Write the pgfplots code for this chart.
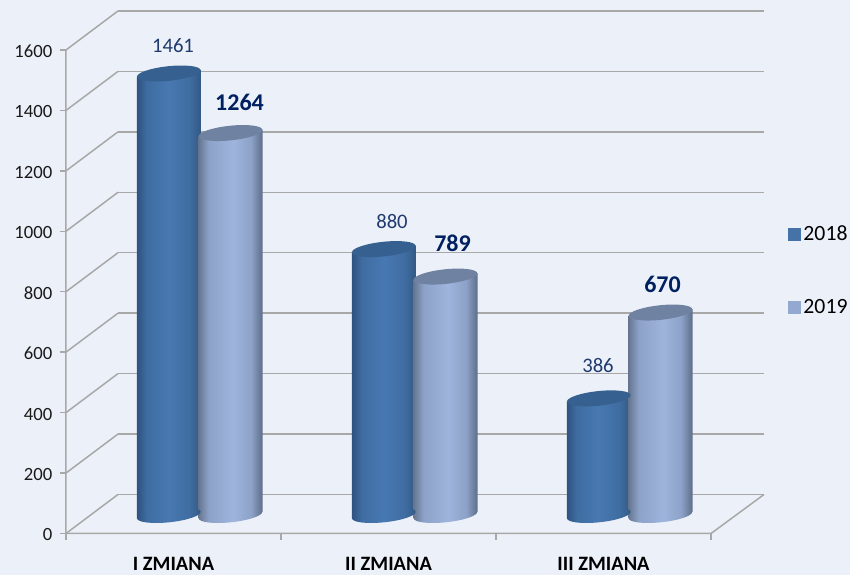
\documentclass[border=0pt]{standalone}
\usepackage{fontspec}
\setmainfont{Carlito}
\usepackage{pgfplots}
\pgfplotsset{compat=1.18}
\usetikzlibrary{calc}
\def\px{0.75pt}
\definecolor{bgc}{HTML}{ECF1F9}
\definecolor{gridc}{HTML}{A8A8A8}
\definecolor{navyA}{HTML}{1F3A6E}
\definecolor{navyB}{HTML}{002060}
\definecolor{topA}{HTML}{35608F}
\definecolor{topB}{HTML}{6F82A2}
\definecolor{legA}{HTML}{4572A7}
\definecolor{legB}{HTML}{93A9CF}
\definecolor{HTMLa}{HTML}{2F5280}
\definecolor{HTMLb}{HTML}{3F6DA2}
\definecolor{HTMLc}{HTML}{4878B1}
\definecolor{HTMLd}{HTML}{335983}
\definecolor{HTMLe}{HTML}{667691}
\definecolor{HTMLf}{HTML}{8DA2C8}
\definecolor{HTMLg}{HTML}{9FB4DC}
\definecolor{HTMLh}{HTML}{5E6E8A}
\pgfdeclarehorizontalshading{cylA}{100bp}{
  color(0bp)=(HTMLa);color(25bp)=(HTMLa);color(33bp)=(HTMLb);color(50bp)=(HTMLc);color(66bp)=(HTMLb);color(75bp)=(HTMLd);color(100bp)=(HTMLd)}
\pgfdeclarehorizontalshading{cylB}{100bp}{
  color(0bp)=(HTMLe);color(25bp)=(HTMLe);color(33bp)=(HTMLf);color(52bp)=(HTMLg);color(66bp)=(HTMLf);color(75bp)=(HTMLh);color(100bp)=(HTMLh)}
\def\mk{(canvas cs:x=0pt,y=0pt) ellipse [x radius=32*\px, y radius=7.3*\px, rotate=6]}
\pgfdeclareplotmark{topA}{\path[draw=none,fill=topA] \mk;}
\pgfdeclareplotmark{topB}{\path[draw=none,fill=topB] \mk;}
\pgfdeclareplotmark{botA}{\shade[draw=none,shading=cylA] \mk;}
\pgfdeclareplotmark{botB}{\shade[draw=none,shading=cylB] \mk;}
% #1 x centre (px), #2 value, #3 A or B
\newcommand\cyl[3]{%
  \pgfmathsetmacro\xL{#1-32}\pgfmathsetmacro\xR{#1+32}%
  \pgfmathsetmacro\yA{-11.25}\pgfmathsetmacro\yB{#2-11.25}%
  \pgfmathsetmacro\yC{#2+11.25}\pgfmathsetmacro\yD{11.25}%
  \addplot[forget plot,only marks,mark=bot#3,yshift=18.5*\px] coordinates {(#1,0)};
  \addplot[forget plot,draw=none,shade,shading=cyl#3,yshift=18.5*\px] coordinates {(\xL,\yA)(\xL,\yB)(\xR,\yC)(\xR,\yD)};
  \addplot[forget plot,only marks,mark=top#3,yshift=18.5*\px] coordinates {(#1,#2)};
}
\begin{document}
\begin{tikzpicture}[x=1pt,y=1pt]
\fill[bgc] (0,0) rectangle (850*\px,575*\px);
\useasboundingbox (0,0) rectangle (850*\px,575*\px);
\begin{axis}[
  at={(66*\px,41.5*\px)},anchor=south west,
  scale only axis,width=698*\px,height=523*\px,
  xmin=66,xmax=764,ymin=0,ymax=1730.7,clip=false,
  axis x line*=bottom,axis y line*=left,
  axis line style={draw=none},
  tick align=outside,
  major tick length=6*\px,
  every tick/.style={gridc,line width=1.4*\px},
  xtick={66,281,496,711},xticklabels={,,,},
  extra x ticks={173.5,388.5,603.5},
  extra x tick labels={I ZMIANA,II ZMIANA,III ZMIANA},
  extra x tick style={major tick length=0pt,
    tick label style={font=\fontsize{15.3pt}{16pt}\selectfont\bfseries,text=black,yshift=-19*\px}},
  ytick={0,200,...,1600},
  yticklabel style={/pgf/number format/assume math mode=true,/pgf/number format/1000 sep={},
    font=\fontsize{14pt}{15pt}\selectfont,text=black!90,xshift=-3*\px,yshift=-1.5*\px},
  legend style={at={(axis cs:788,1027)},anchor=north west,draw=none,fill=none,
    font=\fontsize{16.3pt}{17pt}\selectfont,row sep=38.5pt,inner sep=0pt,
    /tikz/every even column/.append style={column sep=3pt}},
  legend cell align=left,
]
\addlegendimage{legend image code/.code={\fill[legA] (0pt,-4.5pt) rectangle (9pt,4.5pt);}}
\addlegendentry{2018}
\addlegendimage{legend image code/.code={\fill[legB] (0pt,-4.5pt) rectangle (9pt,4.5pt);}}
\addlegendentry{2019}
% walls and floor
\pgfplotsinvokeforeach{0,200,400,600,800,1000,1200,1400,1600}{
  \addplot[forget plot,gridc,line width=1.5*\px,xshift=52*\px,yshift=39*\px] coordinates {(66,#1)(712,#1)};
}
\addplot[forget plot,gridc,line width=1.5*\px] coordinates {(66,0)(118,129.06)};
\addplot[forget plot,gridc,line width=1.5*\px] coordinates {(66,200)(118,329.06)};
\addplot[forget plot,gridc,line width=1.5*\px] coordinates {(66,400)(118,529.06)};
\addplot[forget plot,gridc,line width=1.5*\px] coordinates {(66,600)(118,729.06)};
\addplot[forget plot,gridc,line width=1.5*\px] coordinates {(66,800)(118,929.06)};
\addplot[forget plot,gridc,line width=1.5*\px] coordinates {(66,1000)(118,1129.06)};
\addplot[forget plot,gridc,line width=1.5*\px] coordinates {(66,1200)(118,1329.06)};
\addplot[forget plot,gridc,line width=1.5*\px] coordinates {(66,1400)(118,1529.06)};
\addplot[forget plot,gridc,line width=1.5*\px] coordinates {(66,1600)(118,1729.06)};
\addplot[forget plot,gridc,line width=1.5*\px] coordinates {(66,1600)(66,0)(711,0)(764,129.06)};
% cylinders
\cyl{168.8}{1461}{A}
\cyl{230.5}{1264}{B}
\cyl{383.8}{880}{A}
\cyl{445.5}{789}{B}
\cyl{598.8}{386}{A}
\cyl{660.5}{670}{B}
% data labels
\begin{scope}[every node/.style={inner sep=0pt,anchor=center}]
\node[text=navyA,font=\fontsize{15.5pt}{16pt}\selectfont] at (axis cs:173,1613) {1461};
\node[text=navyB,font=\fontsize{18pt}{19pt}\bfseries\selectfont] at (axis cs:239.5,1425) {1264};
\node[text=navyA,font=\fontsize{15.5pt}{16pt}\selectfont] at (axis cs:392,1031) {880};
\node[text=navyB,font=\fontsize{18pt}{19pt}\bfseries\selectfont] at (axis cs:452.5,961) {789};
\node[text=navyA,font=\fontsize{15.5pt}{16pt}\selectfont] at (axis cs:598,557) {386};
\node[text=navyB,font=\fontsize{18pt}{19pt}\bfseries\selectfont] at (axis cs:662.5,825) {670};
\end{scope}
\end{axis}
\end{tikzpicture}
\end{document}
